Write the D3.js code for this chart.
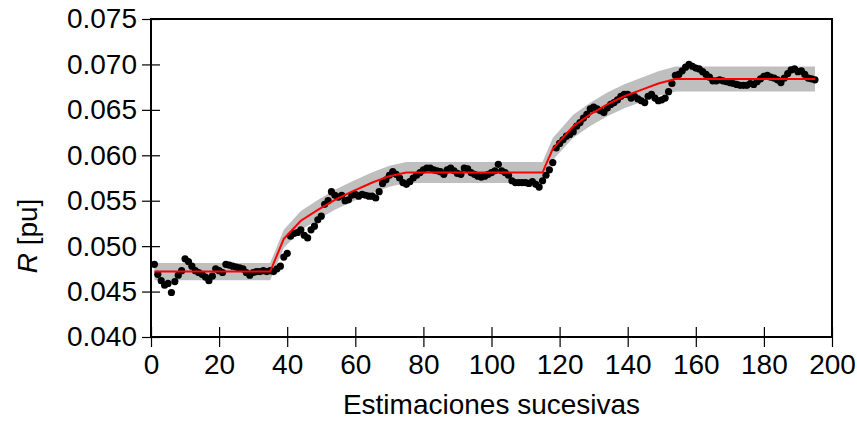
<!DOCTYPE html>
<html>
<head>
<meta charset="utf-8">
<script src="https://cdn.jsdelivr.net/npm/d3@7"></script>
<style>
  body { margin: 0; background: #fff; }
  text { font-family: "Liberation Sans", Arial, sans-serif; }
</style>
</head>
<body>
<div id="grafico"></div>
<script>
// estimaciones sucesivas de R (una por estimacion, de la 1 a la 195)
var estimaciones = [
  0.0480, 0.0469, 0.0462, 0.0457, 0.0459, 0.0449, 0.0461, 0.0468, 0.0473, 0.0486,
  0.0483, 0.0478, 0.0473, 0.0471, 0.0469, 0.0466, 0.0462, 0.0467, 0.0475, 0.0473,
  0.0471, 0.0480, 0.0479, 0.0478, 0.0477, 0.0476, 0.0475, 0.0471, 0.0468, 0.0471,
  0.0472, 0.0472, 0.0473, 0.0472, 0.0473,
  0.0472, 0.0475, 0.0478, 0.0488, 0.0492, 0.0511, 0.0514, 0.0515, 0.0518, 0.0512,
  0.0509, 0.0518, 0.0522, 0.0529, 0.0533, 0.0546, 0.0550, 0.0560, 0.0556, 0.0554,
  0.0556, 0.0550, 0.0551, 0.0556, 0.0557, 0.0555, 0.0557, 0.0556, 0.0555, 0.0555,
  0.0553, 0.0560, 0.0569, 0.0573, 0.0578, 0.0582, 0.0579, 0.0575, 0.0570, 0.0568,
  0.0571, 0.0575, 0.0578, 0.0581, 0.0584, 0.0586, 0.0586, 0.0584, 0.0583, 0.0582,
  0.0579, 0.0584, 0.0586, 0.0583, 0.0580, 0.0579, 0.0586, 0.0585, 0.0581, 0.0579,
  0.0577, 0.0576, 0.0577, 0.0579, 0.0581, 0.0583, 0.0590, 0.0583, 0.0581, 0.0578,
  0.0572, 0.0570, 0.0570, 0.0570, 0.0570, 0.0569, 0.0571, 0.0568, 0.0565, 0.0572,
  0.0578, 0.0584, 0.0592, 0.0608, 0.0613, 0.0617, 0.0621, 0.0623, 0.0626, 0.0632,
  0.0636, 0.0641, 0.0645, 0.0651, 0.0653, 0.0651, 0.0649, 0.0647, 0.0652, 0.0656,
  0.0658, 0.0661, 0.0665, 0.0667, 0.0667, 0.0663, 0.0665, 0.0662, 0.0660, 0.0658,
  0.0665, 0.0667, 0.0663, 0.0660, 0.0661, 0.0663, 0.0670, 0.0679, 0.0688, 0.0689,
  0.0693, 0.0697, 0.0700, 0.0698, 0.0696, 0.0695, 0.0692, 0.0689, 0.0686, 0.0682,
  0.0682, 0.0683, 0.0682, 0.0681, 0.0680, 0.0679, 0.0678, 0.0677, 0.0677, 0.0677,
  0.0679, 0.0678, 0.0681, 0.0684, 0.0687, 0.0688, 0.0686, 0.0685, 0.0683, 0.0680,
  0.0685, 0.0690, 0.0694, 0.0695, 0.0692, 0.0693, 0.0689, 0.0685, 0.0684, 0.0683
];

// valor de referencia (linea roja), puntos de quiebre
var refX = [1, 35, 39, 44, 49, 54, 59, 65, 70, 75, 115, 116, 118, 124, 129, 134, 139, 144, 149, 154, 195];
var refR = [0.0472, 0.0472, 0.0508, 0.0528, 0.0540, 0.0551, 0.0560, 0.0570, 0.0577, 0.0581, 0.0581,
            0.0590, 0.0607, 0.0632, 0.0645, 0.0656, 0.0665, 0.0672, 0.0679, 0.0684, 0.0684];
var banda = 0.02; // +-2 % alrededor de la referencia

var xTicks = [0, 20, 40, 60, 80, 100, 120, 140, 160, 180, 200];
var yTicks = [0.040, 0.045, 0.050, 0.055, 0.060, 0.065, 0.070, 0.075];

var anchoTotal = 857;
var altoTotal = 422;
var margen = { izq: 151, der: 25, sup: 19, inf: 85 };
var ancho = anchoTotal - margen.izq - margen.der;
var alto = altoTotal - margen.sup - margen.inf;
var letra = '28px';

var svg = d3.select('#grafico')
  .append('svg')
  .attr('width', anchoTotal)
  .attr('height', altoTotal);

var g = svg.append('g')
  .attr('transform', 'translate(' + margen.izq + ',' + margen.sup + ')');

var xScale = d3.scaleLinear().domain([0, 200]).range([0, ancho]);
var yScale = d3.scaleLinear().domain([0.040, 0.075]).range([alto, 0]);

var referencia = refX.map(function (x, i) { return { x: x, r: refR[i] }; });

// banda gris
var area = d3.area()
  .x(function (d) { return xScale(d.x); })
  .y0(function (d) { return yScale(d.r * (1 - banda)); })
  .y1(function (d) { return yScale(d.r * (1 + banda)); });

g.append('path')
  .datum(referencia)
  .attr('d', area)
  .attr('fill', '#bfbfbf');

// puntos
g.selectAll('circle')
  .data(estimaciones)
  .enter()
  .append('circle')
  .attr('cx', function (d, i) { return xScale(i + 1); })
  .attr('cy', function (d) { return yScale(d); })
  .attr('r', 3.6)
  .attr('fill', '#000');

// linea roja
var linea = d3.line()
  .x(function (d) { return xScale(d.x); })
  .y(function (d) { return yScale(d.r); });

g.append('path')
  .datum(referencia)
  .attr('d', linea)
  .attr('fill', 'none')
  .attr('stroke', '#ff0000')
  .attr('stroke-width', 2);

// ejes
var xAxis = d3.axisBottom(xScale).tickValues(xTicks).tickSize(10).tickPadding(7)
  .tickFormat(d3.format('d'));
var yAxis = d3.axisLeft(yScale).tickValues(yTicks).tickSize(9).tickPadding(5)
  .tickFormat(d3.format('.3f'));

var ejeX = g.append('g')
  .attr('transform', 'translate(0,' + alto + ')')
  .call(xAxis);
ejeX.selectAll('.tick line').attr('y1', -10);

var ejeY = g.append('g').call(yAxis);
ejeY.selectAll('.tick line').attr('x1', 9);

[ejeX, ejeY].forEach(function (eje) {
  eje.select('.domain').remove();
  eje.selectAll('.tick line').attr('stroke', '#000').attr('stroke-width', 1.2);
  eje.selectAll('.tick text')
    .attr('fill', '#000')
    .style('font-size', letra);
});

// marco
g.append('rect')
  .attr('x', 0)
  .attr('y', 0)
  .attr('width', ancho)
  .attr('height', alto)
  .attr('fill', 'none')
  .attr('stroke', '#000')
  .attr('stroke-width', 2);

// titulos
svg.append('text')
  .attr('x', margen.izq + ancho / 2)
  .attr('y', 414)
  .attr('text-anchor', 'middle')
  .style('font-size', letra)
  .text('Estimaciones sucesivas');

var tituloY = svg.append('text')
  .attr('transform', 'translate(37,236) rotate(-90)')
  .attr('text-anchor', 'middle')
  .style('font-size', letra);
tituloY.append('tspan').style('font-style', 'italic').text('R');
tituloY.append('tspan').text(' [pu]');
</script>
</body>
</html>
